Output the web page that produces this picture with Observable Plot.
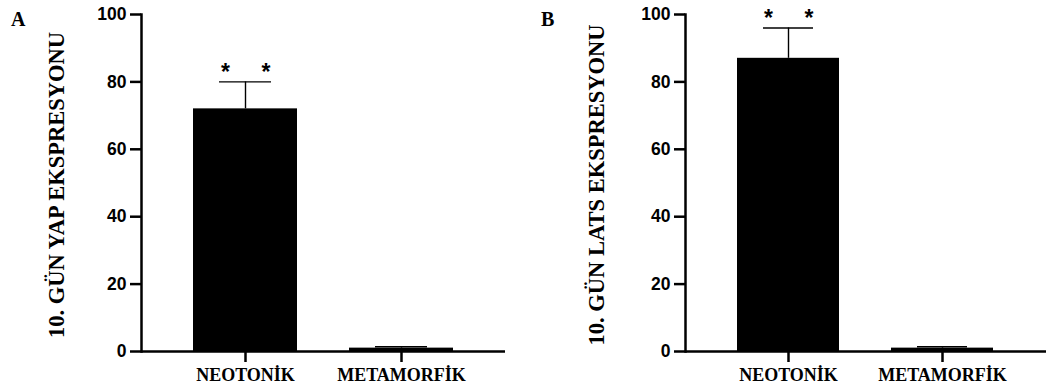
<!DOCTYPE html>
<html>
<head>
<meta charset="utf-8">
<script src="https://cdn.jsdelivr.net/npm/d3@7"></script>
<script src="https://cdn.jsdelivr.net/npm/@observablehq/plot@0.6"></script>
<style>
  html, body { margin: 0; padding: 0; background: #fff; }
  #wrap { position: relative; width: 1046px; height: 392px; overflow: hidden; background: #fff; }
  .panel { position: absolute; top: 0; }
  .letter { position: absolute; font-family: "Liberation Serif", serif; font-weight: bold; font-size: 20px; line-height: 1; color: #000; }
</style>
</head>
<body>
<div id="wrap"></div>
<script>
// ---- data ----
const categories = ["NEOTONİK", "METAMORFİK"];
const yapMeans = [72, 1.0];
const yapErrors = [8, 0.4];
const latsMeans = [87, 1.0];
const latsErrors = [9, 0.4];
const yTicks = [0, 20, 40, 60, 80, 100];
const significance = ["*", ""];
const panelLetters = ["A", "B"];
const yTitles = ["10. GÜN YAP EKSPRESYONU", "10. GÜN LATS EKSPRESYONU"];

function makePanel(means, errors, title, opts) {
  const data = categories.map((c, i) => ({cat: c, mean: means[i], err: errors[i], sig: significance[i]}));
  const starData = data.filter(d => d.sig);
  return Plot.plot({
    width: opts.width,
    height: 392,
    marginLeft: 141,
    marginRight: opts.marginRight,
    marginTop: 14,
    marginBottom: 41,
    style: {background: "white", color: "black", overflow: "visible"},
    x: {domain: categories, paddingInner: 0.335, paddingOuter: 0.333, label: null},
    y: {domain: [0, 100], label: null},
    marks: [
      Plot.barY(data, {x: "cat", y: "mean", fill: "black"}),
      Plot.ruleX(data, {x: "cat", y1: "mean", y2: d => d.mean + d.err, stroke: "black", strokeWidth: 1.4}),
      Plot.tickY(data, {x: "cat", y: d => d.mean + d.err, insetLeft: 26, insetRight: 26, stroke: "black", strokeWidth: 1.4}),
      Plot.text(starData, {x: "cat", y: d => d.mean + d.err, text: "sig", dx: -20, dy: -9, fontSize: 23, fontWeight: "bold", fontFamily: "Liberation Sans, Arial, sans-serif", fill: "black"}),
      Plot.text(starData, {x: "cat", y: d => d.mean + d.err, text: "sig", dx: 20.5, dy: -9, fontSize: 23, fontWeight: "bold", fontFamily: "Liberation Sans, Arial, sans-serif", fill: "black"}),
      Plot.axisY({ticks: yTicks, tickSize: 11, tickPadding: 4, strokeWidth: 2.5, fontSize: 17.5, fontWeight: "bold", fontFamily: "Liberation Sans, Arial, sans-serif", label: null}),
      Plot.axisX({tickSize: 11, tickPadding: 6, strokeWidth: 2.5, fontSize: 18, fontWeight: "bold", fontFamily: "Liberation Serif, Times New Roman, serif", label: null}),
      Plot.text([title], {frameAnchor: "left", textAnchor: "middle", lineAnchor: "middle", text: d => d, rotate: -90, dx: opts.titleDx, dy: 2, fontSize: 22.5, fontWeight: "bold", fontFamily: "Liberation Serif, Times New Roman, serif", fill: "black"}),
      Plot.ruleY([0], {stroke: "black", strokeWidth: 2.5}),
      Plot.frame({anchor: "left", stroke: "black", strokeWidth: 2.5})
    ]
  });
}

const wrap = document.getElementById("wrap");
const a = makePanel(yapMeans, yapErrors, yTitles[0], {width: 506, marginRight: 1, titleDx: -85});
a.classList.add("panel"); a.style.left = "0px";
wrap.appendChild(a);
const b = makePanel(latsMeans, latsErrors, yTitles[1], {width: 502, marginRight: 0, titleDx: -89});
b.classList.add("panel"); b.style.left = "544px";
wrap.appendChild(b);

const la = document.createElement("div");
la.className = "letter"; la.textContent = panelLetters[0];
la.style.left = "11px"; la.style.top = "9px";
wrap.appendChild(la);
const lb = document.createElement("div");
lb.className = "letter"; lb.textContent = panelLetters[1];
lb.style.left = "541px"; lb.style.top = "9px";
wrap.appendChild(lb);
</script>
</body>
</html>
